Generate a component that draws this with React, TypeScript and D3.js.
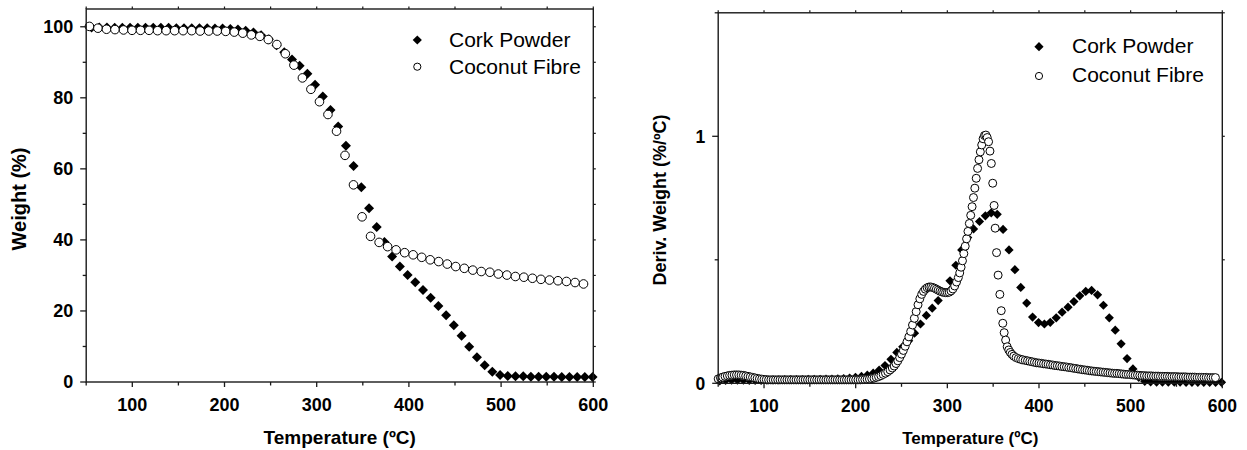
import React from "react";
import * as d3 from "d3";

const FONT = "'Liberation Sans', Arial, Helvetica, sans-serif";

// ---------- Left panel: TGA (Weight %) ----------
const corkTgaT = [55.8, 64.2, 72.5, 80.9, 89.2, 97.6, 106.0, 114.3, 122.7, 131.0, 139.4, 147.8, 156.1, 164.5, 172.8, 181.2, 189.6, 197.9, 206.3, 214.6, 223.0, 231.4, 239.7, 248.1, 256.4, 264.8, 273.2, 281.5, 289.9, 298.2, 306.6, 315.0, 323.3, 331.7, 340.0, 348.4, 356.8, 365.1, 373.5, 381.8, 390.2, 398.6, 406.9, 415.3, 423.6, 432.0, 440.4, 448.7, 457.1, 465.4, 473.8, 482.2, 490.5, 498.9, 507.2, 515.6, 524.0, 532.3, 540.7, 549.0, 557.4, 565.8, 574.1, 582.5, 590.8, 599.2];
const corkTgaW = [99.8, 99.8, 99.8, 99.7, 99.7, 99.7, 99.7, 99.7, 99.7, 99.7, 99.7, 99.6, 99.6, 99.6, 99.6, 99.6, 99.5, 99.5, 99.4, 99.2, 98.9, 98.4, 97.6, 96.5, 94.8, 92.8, 90.8, 89.0, 86.8, 83.7, 80.4, 76.6, 71.9, 66.5, 60.8, 54.8, 48.9, 43.6, 39.4, 35.3, 32.5, 30.1, 28.1, 25.9, 23.7, 21.4, 18.8, 16.0, 13.0, 9.9, 7.0, 4.7, 2.9, 2.0, 1.7, 1.6, 1.6, 1.5, 1.5, 1.5, 1.5, 1.4, 1.4, 1.4, 1.4, 1.4];

const coconutTgaT = [53.5, 62.7, 72.0, 81.2, 90.5, 99.7, 108.9, 118.2, 127.4, 136.7, 145.9, 155.1, 164.4, 173.6, 182.9, 192.1, 201.3, 210.6, 219.8, 229.1, 238.3, 247.5, 256.8, 266.0, 275.3, 284.5, 293.7, 303.0, 312.2, 321.5, 330.7, 339.9, 349.2, 358.4, 367.7, 376.9, 386.1, 395.4, 404.6, 413.9, 423.1, 432.3, 441.6, 450.8, 460.1, 469.3, 478.5, 487.8, 497.0, 506.3, 515.5, 524.7, 534.0, 543.2, 552.5, 561.7, 570.9, 580.2, 589.4];
const coconutTgaW = [100.1, 99.6, 99.3, 99.2, 99.1, 99.0, 99.0, 99.0, 98.9, 98.9, 98.9, 98.9, 98.9, 98.8, 98.8, 98.8, 98.7, 98.5, 98.2, 97.7, 97.3, 96.4, 95.0, 92.4, 89.2, 85.6, 82.4, 78.9, 75.3, 70.6, 63.8, 55.5, 46.5, 41.0, 39.3, 38.1, 37.2, 36.4, 35.8, 35.1, 34.4, 33.9, 33.2, 32.5, 32.0, 31.5, 31.1, 30.9, 30.4, 30.1, 29.7, 29.5, 29.2, 28.9, 28.7, 28.5, 28.3, 28.0, 27.6];

// ---------- Right panel: DTG (Deriv. Weight %/ºC) ----------
const corkDtgT = [51.7, 58.1, 64.6, 71.0, 77.5, 83.9, 90.3, 96.8, 103.2, 109.7, 116.1, 122.5, 129.0, 135.4, 141.9, 148.3, 154.7, 161.2, 167.6, 174.1, 180.5, 186.9, 193.4, 199.8, 206.3, 212.7, 219.1, 225.6, 232.0, 238.5, 244.9, 251.3, 257.8, 264.2, 270.7, 277.1, 283.5, 290.0, 296.4, 302.9, 309.3, 315.7, 322.2, 328.6, 335.1, 341.5, 347.9, 354.4, 360.8, 367.3, 373.7, 380.1, 386.6, 393.0, 399.5, 405.9, 412.3, 418.8, 425.2, 431.7, 438.1, 444.5, 451.0, 457.4, 463.9, 470.3, 476.7, 483.2, 489.6, 496.1, 502.5, 508.9, 515.4, 521.8, 528.3, 534.7, 541.1, 547.6, 554.0, 560.5, 566.9, 573.3, 579.8, 586.2, 592.7, 599.1];
const corkDtgV = [0.010, 0.012, 0.013, 0.013, 0.013, 0.012, 0.012, 0.012, 0.013, 0.014, 0.014, 0.015, 0.015, 0.015, 0.015, 0.016, 0.016, 0.016, 0.017, 0.017, 0.018, 0.019, 0.021, 0.024, 0.028, 0.033, 0.041, 0.053, 0.072, 0.097, 0.125, 0.148, 0.172, 0.203, 0.240, 0.275, 0.304, 0.335, 0.368, 0.415, 0.478, 0.540, 0.590, 0.625, 0.655, 0.678, 0.690, 0.684, 0.623, 0.540, 0.460, 0.388, 0.325, 0.268, 0.246, 0.240, 0.247, 0.265, 0.288, 0.308, 0.331, 0.354, 0.372, 0.376, 0.358, 0.316, 0.265, 0.215, 0.160, 0.100, 0.058, 0.024, 0.008, 0.006, 0.005, 0.005, 0.005, 0.005, 0.005, 0.004, 0.004, 0.004, 0.004, 0.004, 0.004, 0.004];

const coconutDtgT = [
  50, 52.5, 55, 57.5, 60, 62.5, 65, 67.5, 70, 72.5, 75, 77.5, 80, 82.5, 85, 87.5, 90, 92.5, 95, 97.5, 100, 102.5, 105, 107.5, 110,
  112.5, 115, 117.5, 120, 122.5, 125, 127.5, 130, 132.5, 135, 137.5, 140, 142.5, 145, 147.5, 150, 152.5, 155, 157.5, 160, 162.5, 165, 167.5, 170, 172.5, 175, 177.5, 180, 182.5, 185, 187.5, 190, 192.5, 195, 197.5, 200,
  202.5, 205, 207.5, 210, 212.5, 215, 217.5, 220, 222.5, 225, 227.5, 230, 232.5, 235, 237.5, 240,
  242, 244, 246, 248, 250, 252, 254, 256, 258, 260, 262, 264, 266, 268, 270, 272, 274, 276, 278, 280, 282, 284, 286, 288, 290, 292, 294, 296, 298, 300, 302, 304, 306, 308, 310, 312,
  313.5, 315, 316.5, 318, 319.5, 321, 322.5, 324, 325.5, 327, 328.5, 330, 331.5, 333, 334.5, 336, 337.5, 339, 340.5, 342, 343.5, 345,
  346.5, 348, 349.5, 351, 352.2, 353.7, 355.4, 357.3, 358.8, 360.5, 362, 363.6, 365.3, 367, 368.7, 370.5, 372.5,
  375, 377.5, 380, 382.5, 385, 387.5, 390, 392.5, 395, 397.5, 400, 402.5, 405, 407.5, 410, 412.5, 415, 417.5, 420, 422.5, 425, 427.5, 430, 432.5, 435, 437.5, 440, 442.5, 445, 447.5, 450, 452.5, 455, 457.5, 460, 462.5, 465, 467.5, 470, 472.5, 475, 477.5, 480, 482.5, 485, 487.5, 490, 492.5, 495, 497.5, 500, 502.5, 505, 507.5, 510, 512.5, 515, 517.5, 520, 522.5, 525, 527.5, 530, 532.5, 535, 537.5, 540, 542.5, 545, 547.5, 550, 552.5, 555, 557.5, 560, 562.5, 565, 567.5, 570, 572.5, 575, 577.5, 580, 582.5, 585, 587.5, 590, 592.5,
];
const coconutDtgV = [
  0.018, 0.022, 0.025, 0.028, 0.030, 0.032, 0.033, 0.034, 0.034, 0.034, 0.033, 0.032, 0.030, 0.028, 0.026, 0.024, 0.022, 0.020, 0.018, 0.017, 0.016, 0.015, 0.014, 0.014, 0.014,
  0.014, 0.014, 0.014, 0.014, 0.014, 0.014, 0.014, 0.014, 0.014, 0.014, 0.014, 0.014, 0.014, 0.014, 0.014, 0.014, 0.014, 0.014, 0.014, 0.014, 0.014, 0.014, 0.014, 0.014, 0.014, 0.014, 0.014, 0.014, 0.014, 0.014, 0.014, 0.014, 0.014, 0.014, 0.014, 0.014,
  0.014, 0.014, 0.015, 0.015, 0.016, 0.017, 0.019, 0.021, 0.024, 0.027, 0.031, 0.036, 0.041, 0.047, 0.054, 0.062,
  0.070, 0.080, 0.091, 0.104, 0.118, 0.133, 0.150, 0.168, 0.188, 0.210, 0.236, 0.263, 0.290, 0.318, 0.342, 0.360, 0.372, 0.381, 0.387, 0.390, 0.390, 0.388, 0.385, 0.381, 0.377, 0.373, 0.370, 0.368, 0.367, 0.367, 0.369, 0.374, 0.382, 0.394, 0.410, 0.428,
  0.447, 0.470, 0.496, 0.525, 0.555, 0.585, 0.615, 0.647, 0.680, 0.715, 0.752, 0.790, 0.830, 0.870, 0.905, 0.937, 0.965, 0.990, 1.003, 1.005, 0.995, 0.978,
  0.940, 0.890, 0.810, 0.720, 0.628, 0.529, 0.438, 0.360, 0.294, 0.243, 0.205, 0.175, 0.148, 0.135, 0.125, 0.117, 0.110,
  0.104, 0.100, 0.097, 0.095, 0.093, 0.091, 0.089, 0.087, 0.085, 0.083, 0.082, 0.081, 0.079, 0.078, 0.077, 0.075, 0.074, 0.072, 0.071, 0.070, 0.068, 0.067, 0.066, 0.064, 0.063, 0.061, 0.060, 0.058, 0.057, 0.055, 0.054, 0.053, 0.051, 0.050, 0.049, 0.048, 0.047, 0.046, 0.045, 0.044, 0.043, 0.042, 0.041, 0.040, 0.040, 0.039, 0.038, 0.037, 0.036, 0.036, 0.035, 0.034, 0.033, 0.033, 0.032, 0.031, 0.031, 0.030, 0.030, 0.030, 0.029, 0.029, 0.029, 0.028, 0.028, 0.028, 0.028, 0.027, 0.027, 0.027, 0.027, 0.026, 0.026, 0.026, 0.026, 0.025, 0.025, 0.025, 0.025, 0.024, 0.024, 0.024, 0.024, 0.024, 0.023, 0.023, 0.023, 0.023,
];

// ---------- Axes ----------
const xMajorTicks = [100, 200, 300, 400, 500, 600];
const xMinorTicks = [50, 150, 250, 350, 450, 550];
const leftYMajor = [0, 20, 40, 60, 80, 100];
const leftYMinor = [10, 30, 50, 70, 90];
const rightYMajor = [0, 1];
const rightYMinor = [0.5, 1.5];
const seriesNames = ["Cork Powder", "Coconut Fibre"];

const zip = (a: number[], b: number[]) => a.slice(0, Math.min(a.length, b.length)).map((v, i) => [v, b[i]] as [number, number]);

const diamondPath = (cx: number, cy: number, h: number) =>
  `M${cx},${cy - h}L${cx + h},${cy}L${cx},${cy + h}L${cx - h},${cy}Z`;

type PanelProps = {
  xRange: [number, number];
  yRange: [number, number];
  yDomain: [number, number];
  yMajor: number[];
  yMinor: number[];
  yFmt: (v: number) => string;
  cork: [number, number][];
  coconut: [number, number][];
  dh: number;
  cr: number;
  tickFont: number;
  xTitle: { x: number; y: number; size: number };
  yTitle: { x: number; y: number; size: number; text: string };
  legend: { mx: number; tx: number; y1: number; y2: number; b1: number; b2: number; size: number };
};

function Panel(p: PanelProps) {
  const x = d3.scaleLinear().domain([50, 600]).range(p.xRange);
  const y = d3.scaleLinear().domain(p.yDomain).range(p.yRange);
  const [x0, x1] = p.xRange;
  const [yb, yt] = p.yRange;
  const stroke = "#1a1a1a";
  const topTicks = [...xMajorTicks, ...xMinorTicks];
  const rightTicks = [...p.yMajor, ...p.yMinor].filter((v) => y(v) >= yt - 0.5);
  return (
    <g>
      {/* data: cork below, coconut on top */}
      {p.cork.map(([t, v], i) => (
        <path key={"c" + i} d={diamondPath(x(t), y(v), p.dh)} fill="#000" />
      ))}
      {p.coconut.map(([t, v], i) => (
        <circle key={"o" + i} cx={x(t)} cy={y(v)} r={p.cr} fill="#fff" stroke="#000" strokeWidth={1} />
      ))}
      {/* frame */}
      <rect x={x0} y={yt} width={x1 - x0} height={yb - yt} fill="none" stroke={stroke} strokeWidth={1.4} />
      {/* bottom ticks */}
      {xMajorTicks.map((t) => (
        <g key={"xb" + t}>
          <line x1={x(t)} x2={x(t)} y1={yb} y2={yb + 5} stroke={stroke} strokeWidth={1.3} />
          <text x={x(t)} y={yb + 28.5} textAnchor="middle" fontSize={p.tickFont} fontWeight="bold" fontFamily={FONT}>
            {t}
          </text>
        </g>
      ))}
      {xMinorTicks.map((t) => (
        <line key={"xm" + t} x1={x(t)} x2={x(t)} y1={yb} y2={yb + 3.5} stroke={stroke} strokeWidth={1.3} />
      ))}
      {/* top ticks */}
      {topTicks.map((t) => (
        <line key={"xt" + t} x1={x(t)} x2={x(t)} y1={yt} y2={yt - 2.5} stroke={stroke} strokeWidth={1.2} />
      ))}
      {/* left ticks */}
      {p.yMajor.map((v) => (
        <g key={"yl" + v}>
          <line x1={x0 - 6} x2={x0} y1={y(v)} y2={y(v)} stroke={stroke} strokeWidth={1.3} />
          <text x={x0 - 13} y={y(v)} dy="0.36em" textAnchor="end" fontSize={p.tickFont} fontWeight="bold" fontFamily={FONT}>
            {p.yFmt(v)}
          </text>
        </g>
      ))}
      {p.yMinor.filter((v) => y(v) >= yt - 0.5).map((v) => (
        <line key={"ym" + v} x1={x0 - 3.5} x2={x0} y1={y(v)} y2={y(v)} stroke={stroke} strokeWidth={1.3} />
      ))}
      {/* right ticks */}
      {rightTicks.map((v) => (
        <line key={"yr" + v} x1={x1} x2={x1 + 2.5} y1={y(v)} y2={y(v)} stroke={stroke} strokeWidth={1.2} />
      ))}
      {/* titles */}
      <text x={(x0 + x1) / 2} y={p.xTitle.y} textAnchor="middle" fontSize={p.xTitle.size} fontWeight="bold" fontFamily={FONT}>
        Temperature (ºC)
      </text>
      <text
        transform={`translate(${p.yTitle.x},${p.yTitle.y}) rotate(-90)`}
        textAnchor="middle"
        fontSize={p.yTitle.size}
        fontWeight="bold"
        fontFamily={FONT}
      >
        {p.yTitle.text}
      </text>
      {/* legend */}
      <path d={diamondPath(p.legend.mx, p.legend.y1, 4.6)} fill="#000" />
      <circle cx={p.legend.mx} cy={p.legend.y2} r={3.6} fill="#fff" stroke="#000" strokeWidth={1} />
      <text x={p.legend.tx} y={p.legend.b1} fontSize={p.legend.size} fontFamily={FONT}>
        {seriesNames[0]}
      </text>
      <text x={p.legend.tx} y={p.legend.b2} fontSize={p.legend.size} fontFamily={FONT}>
        {seriesNames[1]}
      </text>
    </g>
  );
}

export default function App() {
  return (
    <svg
      width={1247}
      height={450}
      viewBox="0 0 1247 450"
      style={{ position: "absolute", left: 0, top: 0, display: "block", background: "#fff" }}
    >
      <rect x={0} y={0} width={1247} height={450} fill="#fff" />
      <Panel
        xRange={[86.2, 593.3]}
        yRange={[382, 9]}
        yDomain={[0, 105]}
        yMajor={leftYMajor}
        yMinor={leftYMinor}
        yFmt={(v) => String(v)}
        cork={zip(corkTgaT, corkTgaW)}
        coconut={zip(coconutTgaT, coconutTgaW)}
        dh={5}
        cr={4.3}
        tickFont={18}
        xTitle={{ x: 0, y: 444, size: 19 }}
        yTitle={{ x: 26, y: 199, size: 20, text: "Weight (%)" }}
        legend={{ mx: 417.3, tx: 449, y1: 40, y2: 66.7, b1: 46.8, b2: 74, size: 21 }}
      />
      <Panel
        xRange={[718.2, 1222.3]}
        yRange={[383.3, 12.8]}
        yDomain={[0, 1.5]}
        yMajor={rightYMajor}
        yMinor={rightYMinor}
        yFmt={(v) => String(v)}
        cork={zip(corkDtgT, corkDtgV)}
        coconut={zip(coconutDtgT, coconutDtgV)}
        dh={4.6}
        cr={4}
        tickFont={17.5}
        xTitle={{ x: 0, y: 444, size: 17 }}
        yTitle={{ x: 666, y: 200, size: 18, text: "Deriv. Weight (%/ºC)" }}
        legend={{ mx: 1039, tx: 1072, y1: 46.7, y2: 76, b1: 53.3, b2: 81.7, size: 21 }}
      />
    </svg>
  );
}
